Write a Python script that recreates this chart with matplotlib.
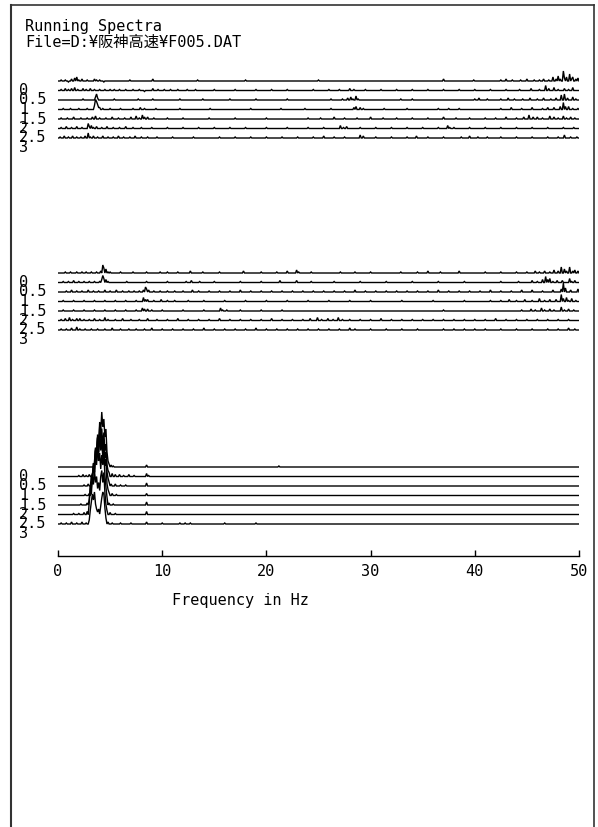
import numpy as np
import matplotlib
matplotlib.use("Agg")
import matplotlib.pyplot as plt

# ---------------- data ----------------
FREQ_MIN, FREQ_MAX, FREQ_STEP = 0.0, 50.0, 0.1
FREQ_TICKS = [0, 10, 20, 30, 40, 50]
TIME_LABELS = ["0", "0.5", "1", "1.5", "2", "2.5", "3"]
TITLE_LINES = ["Running Spectra", "File=D:¥阪神高速¥F005.DAT"]
XLABEL = "Frequency in Hz"

# each trace: list of (frequency Hz, amplitude); 0 elsewhere
PANEL1 = [
    [(0.3,1),(0.7,1),(1.0,-1),(1.3,2),(1.6,3),(1.8,4),(2.0,1),(2.3,2),(2.8,1),(3.5,2),(3.7,1),(4.0,1),(4.4,-1),
     (6.9,1),(9.1,2),(13.4,1),(18.0,1),(25.0,1),(37.0,2),(39.9,1),(42.5,1),(43.0,2),(43.6,1),(44.4,1),(45.0,2),
     (45.7,1),(46.2,1),(46.6,2),(47.1,1),(47.5,4),(47.8,2),(48.0,5),(48.2,2),(48.5,10),(48.6,3),(48.8,4),(49.1,7),
     (49.3,2),(49.4,4),(49.7,2),(49.9,3)],
    [(0.3,1),(0.7,2),(1.0,1),(1.3,2),(1.6,3),(1.9,1),(2.4,2),(2.7,1),(3.1,2),(3.5,1),(4.0,1),(4.5,1),(5.0,1),
     (5.4,1),(5.9,1),(6.5,1),(7.2,1),(7.8,1),(8.3,-1),(9.1,2),(9.6,1),(10.2,1),(10.8,1),(11.5,1),(12.4,1),(13.2,1),
     (15.0,1),(17.0,1),(19.0,1),(20.5,1),(22.0,1),(24.5,1),(26.0,1),(27.0,1),(28.0,2),(28.4,1),(29.5,1),(31.0,1),
     (32.5,1),(34.0,1),(35.5,1),(37.0,1),(38.5,1),(40.0,1),(41.5,1),(43.0,1),(44.3,1),(45.4,2),(46.2,1),(46.8,5),
     (47.1,2),(47.6,3),(48.0,1),(48.6,2),(49.0,1),(49.4,3)],
    [(2.4,1),(3.6,3),(3.7,6),(3.8,2),(5.4,1),(7.7,1),(9.1,1),(11.7,1),(13.9,1),(16.5,1),(19.0,1),(22.0,1),(26.2,1),
     (27.3,1),(27.8,2),(28.1,3),(28.3,1),(28.6,4),(28.8,1),(32.9,1),(34.0,1),(40.0,1),(40.4,2),(41.2,1),(42.5,1),
     (43.2,2),(43.8,1),(44.6,1),(45.3,2),(46.0,1),(46.6,2),(47.3,1),(47.8,2),(48.3,5),(48.6,6),(48.9,2),(49.4,3),
     (49.7,1)],
    [(0.5,1),(1.2,1),(2.0,1),(2.8,1),(3.5,4),(3.6,10),(3.7,8),(3.8,5),(3.9,2),(4.0,2),(4.3,1),(5.0,1),(6.0,1),
     (7.2,1),(7.9,2),(8.3,1),(9.4,1),(11.7,1),(14.6,1),(18.5,1),(21.4,1),(23.7,1),(26.2,1),(28.4,2),(28.6,3),
     (29.0,2),(29.3,1),(31.3,1),(33.5,1),(36.5,1),(37.5,1),(38.5,1),(42.5,1),(43.5,2),(44.5,1),(45.5,2),(46.5,1),
     (47.0,2),(47.6,2),(48.2,3),(48.5,7),(48.7,3),(49.0,3),(49.4,1),(49.9,1)],
    [(0.3,1),(0.9,1),(1.5,2),(2.2,1),(2.8,1),(3.3,2),(3.6,3),(4.0,1),(4.6,1),(5.2,2),(5.8,1),(6.4,1),(7.0,2),
     (7.5,3),(7.8,1),(8.1,4),(8.3,2),(8.6,2),(9.2,1),(10.5,1),(12.0,1),(14.5,1),(17.0,1),(20.0,1),(24.0,1),
     (25.2,1),(26.5,2),(27.5,1),(28.7,1),(30.0,2),(31.2,1),(32.5,1),(34.0,1),(35.5,1),(37.0,2),(38.2,1),(39.5,1),
     (41.0,1),(42.0,1),(43.0,2),(44.0,1),(44.7,2),(45.2,4),(45.6,2),(46.0,2),(46.5,1),(47.2,3),(47.6,2),(48.0,1),
     (48.5,3),(48.8,1),(49.2,2),(49.6,1)],
    [(0.3,1),(0.8,2),(1.3,1),(1.8,2),(2.3,1),(2.9,5),(3.0,2),(3.2,3),(3.4,1),(3.7,2),(4.2,1),(4.7,2),(5.3,1),
     (5.9,1),(6.5,2),(7.2,1),(8.0,1),(9.0,1),(10.5,1),(12.0,1),(13.5,1),(15.0,1),(16.5,1),(18.0,1),(20.0,1),
     (22.0,1),(24.0,1),(25.5,1),(27.1,3),(27.4,1),(27.7,2),(29.0,1),(30.5,1),(32.0,1),(33.5,1),(35.0,1),(36.5,1),
     (37.4,3),(37.6,1),(38.0,1),(39.5,1),(41.0,1),(42.5,1),(44.0,1),(45.5,1),(47.0,1),(48.5,1),(49.5,1)],
    [(0.2,1),(0.6,2),(1.0,1),(1.4,2),(1.8,1),(2.2,1),(2.6,2),(2.9,5),(3.1,1),(3.4,2),(3.8,1),(4.3,2),(4.8,1),
     (5.3,1),(5.8,2),(6.3,1),(6.9,1),(7.4,2),(8.0,1),(8.6,1),(9.5,1),(11.0,1),(13.0,1),(15.5,1),(17.0,1),(18.5,1),
     (20.0,1),(21.5,1),(23.0,1),(24.5,1),(25.5,2),(26.5,1),(27.5,1),(29.0,3),(29.3,2),(30.5,1),(32.0,1),(33.5,1),
     (34.4,2),(35.5,1),(37.0,1),(38.7,1),(39.5,2),(40.3,1),(41.2,1),(42.5,1),(44.0,1),(45.5,1),(47.0,1),(48.0,1),
     (48.6,3),(49.2,1),(49.8,1)],
]

PANEL2 = [
    [(0.7,1),(1.2,1),(1.8,1),(2.3,1),(2.7,1),(3.2,1),(3.7,1),(4.1,2),(4.3,8),(4.4,5),(4.6,4),(4.8,1),(5.0,1),
     (6.0,1),(7.2,1),(8.5,1),(9.8,1),(10.5,1),(11.5,1),(12.7,2),(13.9,1),(15.5,1),(17.8,2),(19.5,1),(21.0,1),
     (22.0,2),(22.9,3),(23.1,1),(24.3,1),(27.1,1),(28.5,1),(30.0,1),(32.9,1),(34.5,1),(35.5,2),(36.7,1),(38.5,2),
     (41.0,1),(42.5,1),(44.0,1),(45.0,1),(45.8,2),(46.2,1),(46.7,2),(47.2,1),(47.6,3),(48.0,2),(48.3,6),(48.6,4),
     (48.8,2),(49.1,6),(49.4,2),(49.6,3),(49.9,2)],
    [(0.5,1),(1.0,1),(1.5,2),(2.0,1),(2.5,1),(3.0,1),(3.5,1),(4.0,1),(4.2,3),(4.3,7),(4.4,4),(4.6,3),(4.8,1),
     (6.6,1),(8.5,1),(10.5,1),(12.3,1),(12.8,2),(13.6,1),(15.0,1),(17.5,1),(19.5,1),(21.3,2),(22.9,2),(24.3,1),
     (26.5,1),(29.0,1),(31.5,1),(34.0,1),(36.5,1),(39.0,1),(42.5,1),(44.2,1),(45.5,2),(46.0,1),(46.5,3),(46.8,6),
     (47.0,3),(47.2,4),(47.5,1),(47.9,2),(48.4,2),(49.1,4),(49.3,1),(49.6,2)],
    [(0.8,1),(1.3,2),(1.8,1),(2.3,1),(2.9,2),(3.4,1),(3.9,1),(4.5,2),(5.0,1),(5.6,2),(6.2,1),(6.8,1),(7.3,1),
     (7.8,1),(8.2,2),(8.4,5),(8.5,3),(8.7,2),(9.2,1),(9.8,1),(10.5,1),(11.2,1),(12.0,1),(12.9,2),(13.5,1),(14.5,1),
     (15.5,1),(16.5,1),(17.5,2),(18.5,1),(19.5,1),(20.5,1),(21.5,1),(22.5,1),(23.5,1),(24.5,1),(25.5,1),(26.5,1),
     (27.5,1),(28.5,2),(29.5,1),(30.5,1),(31.5,1),(32.5,1),(33.5,1),(34.5,1),(35.5,1),(36.5,2),(37.5,1),(38.5,1),
     (39.5,1),(40.5,1),(41.5,2),(42.5,1),(43.5,1),(44.5,2),(45.5,2),(46.5,1),(47.5,2),(48.3,3),(48.5,9),(48.7,4),
     (49.2,2),(49.9,3)],
    [(0.5,1),(1.5,1),(2.5,1),(3.5,1),(4.5,1),(5.5,1),(6.5,1),(7.5,1),(8.2,4),(8.4,2),(8.6,2),(9.2,1),(9.9,2),
     (10.5,1),(11.2,1),(12.5,1),(14.0,1),(16.0,1),(18.0,1),(20.0,1),(22.0,1),(24.0,1),(26.0,1),(28.0,1),(30.0,1),
     (33.0,1),(36.0,1),(39.0,1),(41.5,1),(42.5,1),(43.3,2),(44.0,1),(44.8,2),(45.5,1),(46.2,3),(46.7,1),(47.2,2),
     (47.8,2),(48.3,7),(48.5,3),(48.8,4),(49.0,1),(49.3,3),(49.7,1)],
    [(0.5,1),(1.5,1),(2.5,1),(3.5,1),(4.5,1),(5.5,1),(6.5,1),(7.5,1),(8.1,3),(8.3,2),(8.6,2),(9.0,1),(10.0,1),
     (12.0,1),(14.0,1),(15.6,3),(15.8,1),(16.2,1),(17.5,1),(19.5,1),(21.5,1),(37.0,1),(44.5,1),(45.4,2),(45.8,1),
     (46.4,3),(46.7,1),(47.2,2),(47.6,1),(48.3,4),(48.6,1),(49.0,2),(49.5,1)],
    [(0.3,1),(0.7,2),(1.1,3),(1.4,1),(1.8,2),(2.1,2),(2.5,1),(3.0,1),(3.5,2),(4.0,1),(4.5,3),(4.8,1),(5.5,1),
     (6.2,2),(7.0,1),(7.8,1),(8.6,2),(9.5,1),(10.5,1),(11.5,2),(12.5,1),(13.5,1),(14.5,1),(15.5,2),(16.5,1),
     (17.5,1),(18.5,1),(19.5,1),(20.5,2),(21.5,1),(22.5,1),(23.5,1),(24.2,2),(24.9,3),(25.3,1),(25.9,2),(26.4,1),
     (26.9,3),(27.3,1),(28.0,1),(29.0,1),(30.0,1),(31.0,2),(32.0,1),(33.0,1),(34.0,1),(35.0,1),(36.0,1),(37.0,1),
     (38.0,1),(39.0,1),(40.0,1),(41.0,1),(42.0,2),(43.0,1),(44.0,1),(45.0,1),(46.0,1),(47.0,1),(48.0,1),(49.0,1)],
    [(0.3,1),(0.8,1),(1.3,2),(1.8,3),(2.1,1),(2.6,1),(3.2,1),(3.8,1),(4.5,1),(5.2,2),(6.0,1),(6.8,1),(7.5,1),
     (8.3,1),(9.0,2),(10.0,1),(11.0,1),(12.0,1),(13.0,1),(14.0,2),(15.0,1),(16.0,1),(17.0,1),(18.0,1),(19.0,2),
     (20.0,1),(21.0,1),(22.0,1),(23.0,1),(24.0,1),(25.0,1),(26.0,1),(27.0,1),(28.0,2),(28.5,1),(30.0,1),(31.5,1),
     (33.0,1),(34.5,1),(37.0,1),(38.0,1),(39.0,1),(40.0,1),(41.0,1),(42.5,1),(44.0,1),(45.5,1),(47.0,1),(48.0,1),
     (49.0,2),(49.6,1)],
]

PANEL3 = [
    [(3.5,2),(3.6,6),(3.7,15),(3.8,30),(3.9,22),(4.0,45),(4.1,35),(4.2,55),(4.3,40),(4.4,48),(4.5,30),(4.6,38),
     (4.7,15),(4.8,6),(4.9,3),(5.1,2),(5.3,1),(8.5,2),(21.2,1)],
    [(2.0,1),(2.4,2),(2.7,1),(3.0,2),(3.3,3),(3.4,6),(3.5,15),(3.6,28),(3.7,20),(3.8,42),(3.9,30),(4.0,50),(4.1,38),
     (4.2,48),(4.3,30),(4.4,44),(4.5,26),(4.6,32),(4.7,12),(4.8,6),(4.9,4),(5.2,3),(5.5,2),(5.9,2),(6.3,1),(6.8,2),
     (7.3,1),(8.5,3),(8.7,1)],
    [(2.5,1),(2.9,2),(3.2,3),(3.3,8),(3.4,20),(3.5,14),(3.6,35),(3.7,25),(3.8,48),(3.9,34),(4.0,52),(4.1,38),
     (4.2,50),(4.3,32),(4.4,46),(4.5,28),(4.6,34),(4.7,14),(4.8,8),(4.9,4),(5.1,2),(5.5,2),(6.0,1),(6.5,1),(8.5,3)],
    [(2.6,1),(3.0,2),(3.2,8),(3.3,20),(3.4,32),(3.5,24),(3.6,48),(3.7,35),(3.8,58),(3.9,42),(4.0,62),(4.1,45),
     (4.2,55),(4.3,38),(4.4,50),(4.5,30),(4.6,36),(4.7,12),(4.8,6),(4.9,3),(5.2,2),(5.6,1),(8.5,2)],
    [(2.2,1),(2.8,2),(3.0,6),(3.1,18),(3.2,30),(3.3,22),(3.4,42),(3.5,32),(3.6,55),(3.7,40),(3.8,60),(3.9,44),
     (4.0,52),(4.1,36),(4.2,50),(4.3,40),(4.4,52),(4.5,30),(4.6,18),(4.7,8),(4.9,2),(5.3,1),(8.5,3)],
    [(1.5,1),(2.0,1),(2.5,2),(2.8,3),(3.0,12),(3.1,28),(3.2,20),(3.3,38),(3.4,30),(3.5,44),(3.6,32),(3.7,38),
     (3.8,26),(3.9,32),(4.0,24),(4.1,38),(4.2,44),(4.3,32),(4.4,42),(4.5,22),(4.6,10),(4.7,4),(5.0,2),(5.5,1),
     (8.5,3)],
    [(0.3,1),(0.8,1),(1.3,2),(1.8,1),(2.3,2),(2.7,1),(3.0,4),(3.1,14),(3.2,22),(3.3,30),(3.4,24),(3.5,32),(3.6,20),
     (3.7,15),(3.8,12),(3.9,15),(4.0,10),(4.1,18),(4.2,26),(4.3,32),(4.4,30),(4.5,16),(4.6,6),(4.8,2),(5.2,1),
     (6.0,1),(7.0,1),(8.5,2),(10.0,1),(11.7,1),(12.2,1),(12.7,1),(16.0,1),(19.0,1)],
]

PANELS = [PANEL1, PANEL2, PANEL3]


def spectrum(peaks):
    n = int(round((FREQ_MAX - FREQ_MIN) / FREQ_STEP)) + 1
    freqs = np.linspace(FREQ_MIN, FREQ_MAX, n)
    amps = np.zeros(n)
    for f, a in peaks:
        amps[int(round((f - FREQ_MIN) / FREQ_STEP))] = a
    return freqs, amps


# ---------------- layout (pixels) ----------------
W, H = 598, 827
X0, X1 = 58, 579
PANEL_TOP = [81, 273, 467]
SPACING = 9.5
AXIS_Y = 556
FONT = ["DejaVu Sans Mono", "Noto Sans CJK JP"]
plt.rcParams["font.family"] = FONT

fig = plt.figure(figsize=(W / 100, H / 100), dpi=100)
fig.patch.set_facecolor("white")

overlay = fig.add_axes([0, 0, 1, 1])
overlay.set_xlim(0, W)
overlay.set_ylim(H, 0)
overlay.axis("off")

ax = fig.add_axes([X0 / W, 0, (X1 - X0) / W, 1])
ax.set_xlim(FREQ_MIN, FREQ_MAX)
ax.set_ylim(H, 0)
ax.axis("off")
ax.patch.set_alpha(0)

for top, panel in zip(PANEL_TOP, PANELS):
    for i, peaks in enumerate(panel):
        base = top + i * SPACING
        f, a = spectrum(peaks)
        ax.plot(f, base - a, color="black", lw=1.0, solid_joinstyle="miter")
    for j, lab in enumerate(TIME_LABELS):
        overlay.text(19, top + (j + 1) * SPACING, lab, ha="left", va="center",
                     fontsize=11, color="black")

# frequency axis
axf = fig.add_axes([X0 / W, 1 - AXIS_Y / H, (X1 - X0) / W, 0.02])
axf.set_xlim(FREQ_MIN, FREQ_MAX)
axf.patch.set_alpha(0)
for s in ["left", "right", "top"]:
    axf.spines[s].set_visible(False)
axf.spines["bottom"].set_linewidth(1.0)
axf.set_yticks([])
axf.set_xticks(FREQ_TICKS)
axf.set_xticklabels([str(t) for t in FREQ_TICKS])
axf.tick_params(axis="x", direction="in", length=4.5, width=1.0, pad=6, labelsize=11)

overlay.text(172, 601, XLABEL, ha="left", va="center", fontsize=11)

# title
overlay.text(25, 30.5, TITLE_LINES[0], ha="left", va="baseline", fontsize=11)
overlay.text(25, 46.5, TITLE_LINES[1], ha="left", va="baseline", fontsize=11)

# frame
fc = "#333333"
overlay.plot([11, 11], [H, 5], color=fc, lw=1.5)
overlay.plot([11, 594], [5, 5], color=fc, lw=1.2)
overlay.plot([594, 594], [5, H], color=fc, lw=1.2)

fig.savefig("out.png", dpi=100, facecolor="white")
